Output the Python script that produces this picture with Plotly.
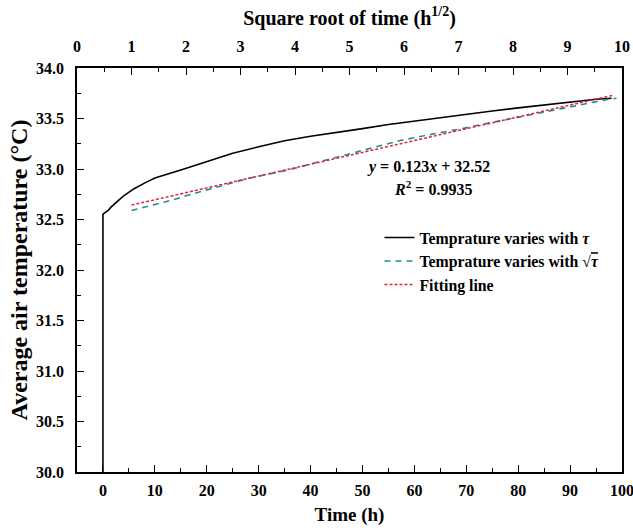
import math
import plotly.graph_objects as go

# Data
time_h = [0, 0, 0.2, 0.5, 1, 1.5, 2, 3, 4, 5, 6, 8, 10, 15, 20, 25, 30, 35, 40, 45,
          50, 55, 60, 65, 70, 75, 80, 85, 90, 95, 98]
temp_c = [30.0, 32.55, 32.56, 32.57, 32.59, 32.62, 32.645, 32.69, 32.735, 32.77, 32.805,
          32.86, 32.91, 32.99, 33.075, 33.155, 33.22, 33.28, 33.325, 33.36, 33.40,
          33.44, 33.475, 33.51, 33.545, 33.575, 33.605, 33.635, 33.665, 33.69, 33.70]

# same record plotted against sqrt(time), from t = 1 h on
sqrt_time = [math.sqrt(t) for t, T in zip(time_h, temp_c) if t >= 1]
sqrt_temp = [T for t, T in zip(time_h, temp_c) if t >= 1]

# fitting line end points (y = 0.123x + 32.52)
fit_x = [1.0, 9.85]
fit_y = [32.643, 33.732]

bottom_ticks = [0, 10, 20, 30, 40, 50, 60, 70, 80, 90, 100]
top_ticks = [0, 1, 2, 3, 4, 5, 6, 7, 8, 9, 10]
y_ticks = [30.0, 30.5, 31.0, 31.5, 32.0, 32.5, 33.0, 33.5, 34.0]

FONT = "Liberation Serif"

fig = go.Figure()
fig.add_trace(go.Scatter(x=time_h, y=temp_c, mode="lines",
                         line=dict(color="black", width=1.6),
                         name="<b>Temprature varies with <i>τ</i></b>"))
fig.add_trace(go.Scatter(x=sqrt_time, y=sqrt_temp, mode="lines", xaxis="x2",
                         line=dict(color="#1f9090", width=1.6, dash="6px,5px"),
                         name="<b>Temprature varies with √<span style='text-decoration:overline'><i>τ</i></span></b>"))
fig.add_trace(go.Scatter(x=fit_x, y=fit_y, mode="lines", xaxis="x2",
                         line=dict(color="#e8203a", width=1.5, dash="3px,2px"),
                         name="<b>Fitting line</b>"))

tickfont = dict(family=FONT, size=16, color="black", weight="bold")

fig.update_layout(
    width=633, height=530,
    margin=dict(l=77, r=11, t=68, b=58),
    paper_bgcolor="white", plot_bgcolor="white",
    font=dict(family=FONT, color="black"),
    xaxis=dict(range=[-5, 100], tickvals=bottom_ticks, automargin=False,
               ticklabeloverflow="allow",
               ticks="inside", ticklen=7, tickwidth=1.2, tickcolor="black",
               minor=dict(dtick=5, tick0=0, ticks="inside", ticklen=4, tickcolor="black"),
               showline=True, linecolor="black", linewidth=1.5, mirror=True,
               showgrid=False, zeroline=False,
               tickfont=tickfont, ticklabelstandoff=3,
               title=dict(text="<b>Time (h)</b>",
                          font=dict(family=FONT, size=19, color="black"), standoff=10)),
    xaxis2=dict(range=[0, 10], tickvals=top_ticks, overlaying="x", side="top", anchor="y",
                automargin=False, ticklabeloverflow="allow",
                ticks="inside", ticklen=7, tickwidth=1.2, tickcolor="black",
                minor=dict(dtick=0.5, tick0=0, ticks="inside", ticklen=4, tickcolor="black"),
                showline=True, linecolor="black", linewidth=1.5,
                showgrid=False, zeroline=False,
                tickfont=tickfont, ticklabelstandoff=8,
                title=dict(text="<b>Square root of time (h<sup>1/2</sup>)</b>",
                           font=dict(family=FONT, size=20, color="black"), standoff=7)),
    yaxis=dict(range=[30, 34], tickvals=y_ticks, tickformat=".1f", automargin=False,
               ticklabeloverflow="allow",
               ticks="inside", ticklen=7, tickwidth=1.2, tickcolor="black",
               minor=dict(dtick=0.25, tick0=30, ticks="inside", ticklen=4, tickcolor="black"),
               showline=True, linecolor="black", linewidth=1.5, mirror=True,
               showgrid=False, zeroline=False,
               tickfont=tickfont, ticklabelstandoff=8,
               title=dict(text="<b>Average air temperature (°C)</b>",
                          font=dict(family=FONT, size=24, color="black"), standoff=2)),
    legend=dict(x=0.555, y=0.622, xanchor="left", yanchor="top",
                bgcolor="rgba(0,0,0,0)", font=dict(family=FONT, size=15.8, color="black")),
    showlegend=True,
    annotations=[
        dict(x=0.528, y=0.755, xref="paper", yref="paper", showarrow=False,
             text="<b><i>y</i> = 0.123<i>x</i> + 32.52</b>", yanchor="middle",
             font=dict(family=FONT, size=16, color="black"), xanchor="left"),
        dict(x=0.578, y=0.703, xref="paper", yref="paper", showarrow=False,
             text="<b><i>R</i><sup>2</sup> = 0.9935</b>", yanchor="middle",
             font=dict(family=FONT, size=16, color="black"), xanchor="left"),
    ],
)

fig.write_html("out.html")
